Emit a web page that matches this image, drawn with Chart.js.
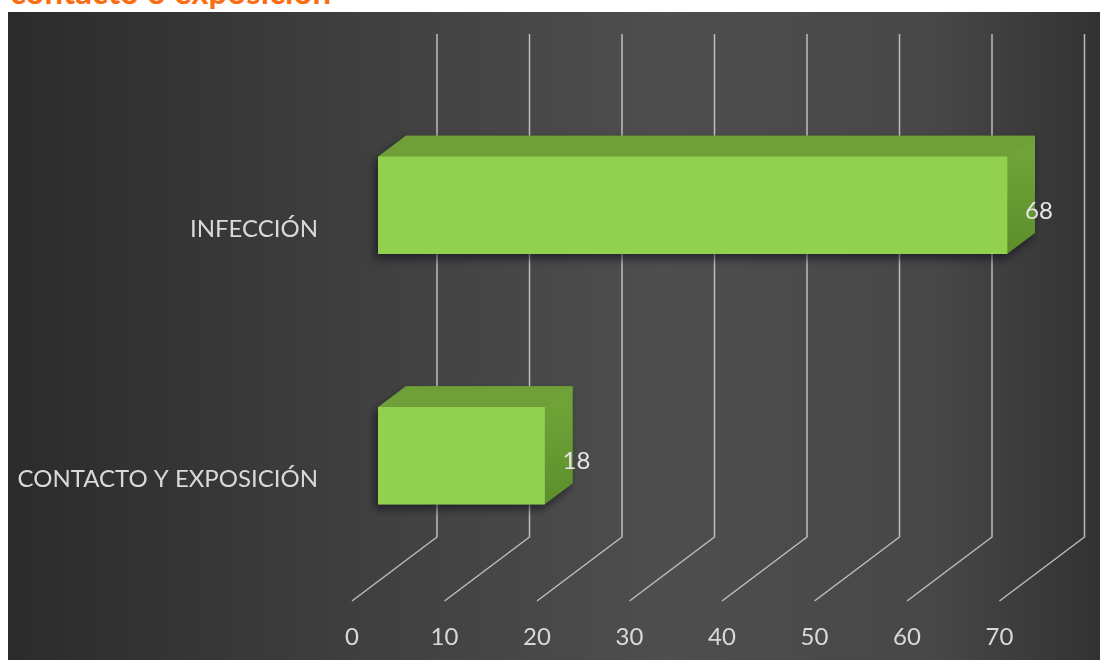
<!DOCTYPE html>
<html>
<head>
<meta charset="utf-8">
<script src="https://cdn.jsdelivr.net/npm/chart.js@4.4.1/dist/chart.umd.min.js"></script>
<style>
  body { margin: 0; background: #fff; overflow: hidden; }
  #titulo {
    position: absolute; left: 10px; top: -25px;
    font: bold 33px Lato, sans-serif; line-height: 33px;
    color: #fc6c12; white-space: nowrap;
  }
  #grafico { position: absolute; left: 0; top: 0; }
</style>
</head>
<body>
<div id="titulo">contacto o exposición</div>
<canvas id="grafico" width="1107" height="660"></canvas>
<script>
var categorias = ['INFECCIÓN', 'CONTACTO Y EXPOSICIÓN'];
var valores = [68, 18];
var ejeMax = 70;
var ejePaso = 10;

// perspectiva de la caja 3D (desplazamientos respecto al plano de las barras)
var FONDO = { dx: 59, dy: -44 };
var FRENTE = { dx: -26, dy: 20 };
var PROF = { dx: 28, dy: -21 };
var TOPE_PARED = 34;

var verde = '#92d050';
var verdeArriba = '#6f9f39';
var verdeLado = '#66982f';

var caja3d = {
  id: 'caja3d',
  beforeDraw: function(chart) {
    var c = chart.ctx;
    var g = c.createLinearGradient(8, 0, 1100, 0);
    g.addColorStop(0, '#2b2b2b');
    g.addColorStop(0.3, '#3e3e3e');
    g.addColorStop(0.6, '#4e4e4e');
    g.addColorStop(0.85, '#474747');
    g.addColorStop(1, '#323232');
    c.save();
    c.fillStyle = g;
    c.fillRect(8, 12, 1092, 648);
    c.restore();
  },
  beforeDatasetsDraw: function(chart) {
    var c = chart.ctx;
    var x = chart.scales.x;
    var piso = chart.chartArea.bottom;
    c.save();
    // lineas de la pared del fondo y del piso
    c.strokeStyle = 'rgba(210,210,210,0.85)';
    c.lineWidth = 1.5;
    x.ticks.forEach(function(t) {
      var px = x.getPixelForValue(t.value);
      c.beginPath();
      c.moveTo(px + FONDO.dx, TOPE_PARED);
      c.lineTo(px + FONDO.dx, piso + FONDO.dy);
      c.lineTo(px + FRENTE.dx, piso + FRENTE.dy);
      c.stroke();
    });
    // caras superior y lateral de cada barra
    chart.getDatasetMeta(0).data.forEach(function(bar) {
      var p = bar.getProps(['x', 'y', 'base', 'height'], true);
      var izq = Math.min(p.base, p.x), der = Math.max(p.base, p.x);
      var arr = p.y - p.height / 2, abj = p.y + p.height / 2;

      c.save();
      c.shadowColor = 'rgba(10,10,25,0.6)';
      c.shadowBlur = 8;
      c.shadowOffsetX = -3;
      c.shadowOffsetY = 5;
      c.fillStyle = verdeLado;
      c.beginPath();
      c.moveTo(izq, abj);
      c.lineTo(izq, arr);
      c.lineTo(izq + PROF.dx, arr + PROF.dy);
      c.lineTo(der + PROF.dx, arr + PROF.dy);
      c.lineTo(der + PROF.dx, abj + PROF.dy);
      c.lineTo(der, abj);
      c.closePath();
      c.fill();
      c.restore();

      c.fillStyle = verdeArriba;
      c.beginPath();
      c.moveTo(izq, arr);
      c.lineTo(izq + PROF.dx, arr + PROF.dy);
      c.lineTo(der + PROF.dx, arr + PROF.dy);
      c.lineTo(der, arr);
      c.closePath();
      c.fill();

      var gl = c.createLinearGradient(0, arr, 0, abj);
      gl.addColorStop(0, '#6fa338');
      gl.addColorStop(1, '#5c8e2b');
      c.fillStyle = gl;
      c.beginPath();
      c.moveTo(der, arr);
      c.lineTo(der + PROF.dx, arr + PROF.dy);
      c.lineTo(der + PROF.dx, abj + PROF.dy);
      c.lineTo(der, abj);
      c.closePath();
      c.fill();
    });
    c.restore();
  },
  afterDatasetsDraw: function(chart) {
    var c = chart.ctx;
    c.save();
    c.font = '24px Lato';
    c.fillStyle = '#e6e6e6';
    c.textBaseline = 'middle';
    c.textAlign = 'left';
    chart.getDatasetMeta(0).data.forEach(function(bar, i) {
      var p = bar.getProps(['x', 'y'], true);
      c.fillText(String(valores[i]), p.x + 18, p.y + 6);
    });
    c.restore();
  }
};

var grafico = new Chart(document.getElementById('grafico'), {
  type: 'bar',
  data: {
    labels: categorias,
    datasets: [{
      data: valores,
      backgroundColor: verde,
      borderWidth: 0,
      barThickness: 97
    }]
  },
  options: {
    indexAxis: 'y',
    responsive: false,
    animation: false,
    layout: { padding: { top: 80, right: 81.5, bottom: 0, left: 0 } },
    plugins: {
      legend: { display: false },
      tooltip: { enabled: false }
    },
    scales: {
      x: {
        min: 0,
        max: ejeMax,
        ticks: {
          stepSize: ejePaso,
          color: '#d9d9d9',
          font: { family: 'Lato', size: 24 },
          labelOffset: -26,
          padding: 42
        },
        grid: { display: false, drawTicks: false },
        border: { display: false },
        afterFit: function(s) { s.height = 79; }
      },
      y: {
        ticks: {
          color: '#d9d9d9',
          font: { family: 'Lato', size: 24 },
          labelOffset: 24,
          padding: 60
        },
        grid: { display: false, drawTicks: false },
        border: { display: false },
        afterFit: function(s) { s.width = 378; }
      }
    }
  },
  plugins: [caja3d]
});
</script>
</body>
</html>
